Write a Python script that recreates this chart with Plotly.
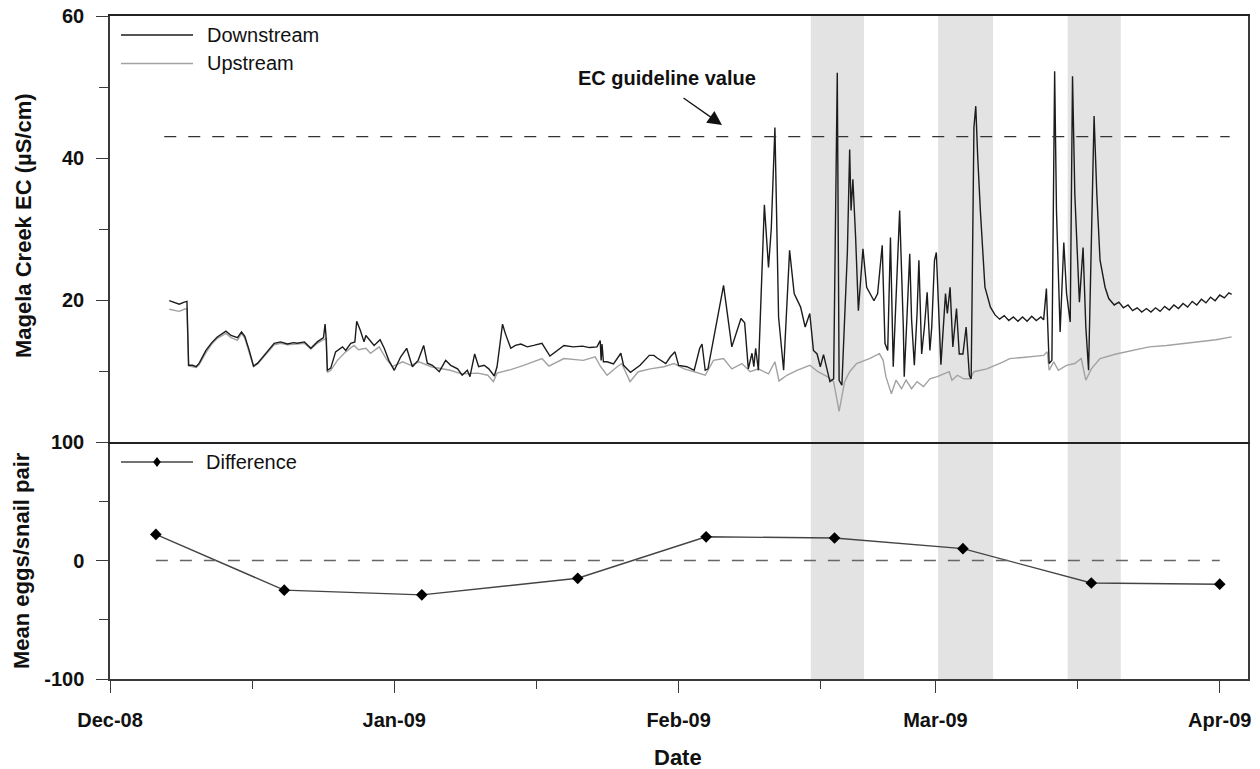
import pandas as pd
import plotly.graph_objects as go

# ---------------- data (days since 2008-12-01) ----------------
BASE = "2008-12-01"

DS_DAY = [6.46, 7.0, 7.55, 8.1, 8.39, 8.57, 9.0, 9.4, 9.73, 10.46, 11.1, 11.7, 12.64, 13.2, 13.9, 14.34, 14.7,
          15.18, 15.65, 16.1, 17.2, 17.9, 18.6, 19.35, 20.0, 20.4, 21.2, 21.9, 22.6, 23.28, 23.45, 23.55, 23.7,
          24.07, 24.6, 25.35, 25.7, 26.25, 26.7, 26.9, 27.3, 27.7, 27.9, 28.4, 28.8, 29.45, 29.9, 30.4, 31.0,
          31.7, 32.35, 32.97, 33.6, 34.2, 34.6, 35.15, 35.9, 36.6, 37.15, 37.9, 38.4, 38.96, 39.25, 39.76, 40.2,
          40.8, 41.3, 41.9, 42.2, 42.8, 43.1, 43.7, 44.2, 44.8, 45.5, 46.2, 47.1, 47.97, 48.5, 49.1, 49.5, 50.5,
          51.5, 52.3, 53.1, 53.45, 53.55, 53.65, 53.8, 54.2, 54.9, 55.7, 56.0, 56.75, 57.5, 57.8, 58.8, 59.3,
          59.7, 60.4, 60.6, 61.1, 61.6, 62.0, 62.9, 63.7, 64.3, 64.55, 64.9, 65.2, 66.9, 67.8, 68.8, 69.2, 69.6,
          70.0, 70.2, 70.4, 70.7, 71.35, 71.8, 72.1, 72.5, 72.9, 73.45, 74.1, 74.6, 75.3, 75.8, 76.3, 76.7, 77.1,
          77.45, 77.8, 78.2, 78.5, 78.9, 79.3, 79.5, 79.8, 80.4, 80.65, 80.8, 81.0, 81.3, 81.6, 82.1, 82.5, 83.3,
          83.7, 84.2, 84.5, 84.8, 85.1, 85.4, 85.8, 86.1, 86.5, 86.6, 86.9, 87.2, 87.4, 87.7, 88.0, 88.2, 88.5,
          88.8, 89.1, 89.4, 89.6, 89.9, 90.1, 90.3, 90.6, 91.1, 91.3, 91.6, 91.9, 92.3, 92.6, 93.0, 93.35, 93.7,
          93.9, 94.2, 94.4, 94.6, 94.9, 95.4, 96.0, 96.5, 97.0, 97.5, 98.0, 98.5, 99.0, 99.5, 100.0, 100.5,
          101.0, 101.5, 101.8, 102.1, 102.4, 102.7, 103.0, 103.2, 103.6, 104.0, 104.3, 104.7, 104.95, 105.2,
          105.7, 106.1, 106.4, 106.7, 107.05, 107.3, 107.6, 107.95, 108.5, 108.9, 109.5, 110.0, 110.5, 111.0,
          111.5, 112.0, 112.5, 113.0, 113.5, 114.0, 114.5, 115.0, 115.5, 116.0, 116.5, 117.0, 117.5, 118.0,
          118.5, 119.0, 119.5, 120.0, 120.5, 121.0, 121.5, 122.0, 122.3]
DS_EC = [19.9, 19.7, 19.4, 19.7, 19.8, 10.8, 10.8, 10.6, 11.1, 12.9, 14.0, 14.8, 15.6, 15.0, 14.7, 15.5, 14.9,
         12.9, 10.7, 11.1, 12.9, 13.9, 14.1, 13.8, 14.0, 13.9, 14.1, 13.2, 14.1, 14.7, 16.6, 15.0, 10.1,
         10.4, 12.7, 13.4, 12.9, 13.9, 14.1, 17.0, 15.7, 14.1, 15.0, 14.3, 13.6, 14.4, 13.2, 11.5, 10.1,
         12.0, 13.2, 10.6, 11.5, 13.6, 11.1, 10.8, 9.9, 11.5, 10.8, 10.3, 9.4, 10.1, 9.2, 12.4, 10.6,
         10.8, 10.3, 9.3, 10.6, 16.6, 15.3, 13.2, 13.6, 13.8, 13.4, 13.6, 13.9, 12.1, 12.6, 13.2, 13.6, 13.4,
         13.5, 13.3, 13.4, 14.3, 11.5, 13.8, 11.3, 11.3, 11.0, 12.5, 10.8, 9.8, 10.6, 10.8, 12.2, 12.2,
         11.8, 11.2, 11.05, 12.0, 12.7, 10.8, 10.6, 10.1, 13.2, 13.8, 10.1, 10.3, 22.05, 13.4, 17.4, 16.8, 10.3,
         12.5, 10.6, 13.2, 10.1, 33.4, 24.6, 30.0, 44.3, 17.6, 10.1, 27.0, 20.9, 19.0, 16.2, 18.1, 12.9, 12.4,
         10.6, 12.3, 10.1, 8.5, 8.9, 52.0, 8.7, 8.0, 26.7, 41.2, 32.6, 37.0, 28.8, 18.5, 27.2, 21.8, 19.9,
         20.9, 27.7, 13.9, 12.9, 28.8, 10.6, 23.5, 32.6, 16.2, 9.2, 17.6, 26.5, 17.3, 10.8, 18.1, 25.6, 12.4,
         16.2, 21.1, 12.9, 16.2, 25.6, 26.7, 19.9, 10.9, 20.9, 18.1, 21.8, 13.4, 18.8, 12.4, 12.4, 16.2, 9.4,
         8.9, 44.3, 47.3, 40.5, 32.6, 21.8, 19.0, 17.9, 17.3, 17.8, 17.1, 17.6, 17.0, 17.6, 17.0, 17.7,
         17.1, 17.6, 17.2, 21.6, 11.05, 11.5, 52.2, 32.6, 15.5, 28.1, 20.9, 16.9, 51.5, 34.9,
         19.7, 27.4, 16.2, 10.1, 32.6, 45.9, 34.9, 25.6, 21.8, 20.2, 19.3, 19.7, 18.9, 19.3,
         18.5, 18.9, 18.3, 18.8, 18.3, 18.9, 18.4, 19.1, 18.6, 19.3, 18.8, 19.5, 19.0, 19.8,
         19.3, 20.1, 19.6, 20.4, 19.9, 20.7, 20.3, 21.0, 20.8]

US_DAY = [6.46, 7.0, 7.55, 8.1, 8.39, 8.57, 9.0, 9.4, 9.73, 10.46, 11.1, 11.7, 12.64, 13.2, 13.9, 14.34, 14.7,
          15.18, 15.65, 16.1, 17.2, 17.9, 18.6, 19.35, 20.4, 21.2, 21.9, 22.6, 23.28, 23.6, 23.7, 24.07, 24.8,
          25.7, 26.6, 27.1, 27.9, 28.4, 29.35, 30.1, 30.8, 31.9, 32.8, 33.7, 35.0, 36.1, 37.1, 38.3, 40.1,
          41.2, 41.8, 42.2, 43.7, 45.1, 46.2, 47.1, 47.85, 49.1, 49.5, 51.6, 52.9, 53.5, 54.2, 55.3, 55.8,
          56.7, 57.6, 58.9, 60.4, 61.5, 62.6, 63.7, 64.9, 65.8, 66.9, 67.8, 68.9, 69.8, 70.7, 71.3, 71.8,
          72.5, 72.95, 73.8, 74.9, 76.3, 77.2, 78.2, 78.9, 79.5, 80.1, 80.65, 81.4, 82.8, 83.9, 84.3, 84.6,
          85.2, 85.7, 86.3, 86.8, 87.4, 88.0, 88.7, 89.4, 90.2, 90.9, 91.5, 91.8, 92.4, 93.1, 93.8, 94.2,
          95.6, 97.4, 98.1, 99.5, 101.8, 102.2, 102.4, 102.9, 103.4, 104.3, 105.2, 105.9, 106.4, 107.0,
          107.95, 109.7, 111.5, 113.3, 115.2, 117.0, 118.8, 120.6, 122.3]
US_EC = [18.7, 18.6, 18.4, 18.7, 18.8, 10.7, 10.6, 10.5, 10.9, 12.6, 13.8, 14.6, 15.3, 14.7, 14.3, 15.3, 14.6,
         12.6, 10.6, 11.0, 12.7, 13.7, 13.9, 13.7, 13.8, 13.9, 13.1, 13.9, 14.4, 14.6, 9.8, 10.1, 11.5,
         12.7, 13.6, 13.0, 13.2, 12.5, 13.4, 11.75, 10.6, 11.3, 10.8, 11.3, 10.6, 10.3, 10.1, 9.6, 9.7,
         9.4, 8.5, 9.7, 10.2, 10.8, 11.3, 11.75, 10.7, 11.5, 11.75, 11.5, 12.0, 10.6, 9.4, 10.6, 11.05,
         8.5, 9.9, 10.3, 10.6, 11.05, 10.3, 9.9, 9.4, 11.5, 11.75, 10.3, 11.05, 9.9, 10.3, 9.9, 9.6,
         11.3, 8.6, 9.4, 10.1, 10.8, 9.9, 9.2, 8.5, 4.3, 8.5, 9.9, 11.05, 11.75, 12.45, 11.5, 9.2,
         6.8, 8.7, 7.5, 8.7, 7.5, 8.5, 7.8, 8.9, 9.2, 9.6, 9.9, 8.7, 9.4, 8.9, 8.9, 9.9,
         10.3, 11.3, 11.75, 11.9, 12.2, 12.7, 10.1, 11.3, 10.1, 10.8, 11.05, 11.75, 8.7, 10.3,
         11.75, 12.4, 12.9, 13.4, 13.6, 13.9, 14.2, 14.4, 14.8]

DIFF_DATES = ["2008-12-06", "2008-12-20", "2009-01-04", "2009-01-21", "2009-02-04",
              "2009-02-18", "2009-03-04", "2009-03-18", "2009-04-01"]
DIFF_VALUES = [22, -25, -29, -15, 20, 19, 10, -19, -20]

EC_GUIDELINE = 43
GUIDE_START, GUIDE_END = "2008-12-06 22:00", "2009-04-02 02:00"

BAND_STARTS = ["2009-02-15 10:00", "2009-03-01 07:00", "2009-03-15 10:00"]
BAND_ENDS = ["2009-02-21 05:00", "2009-03-07 07:00", "2009-03-21 05:00"]

X_RANGE = ["2008-12-01", "2009-04-04 02:00"]
MONTH_TICKS = ["2008-12-01", "2009-01-01", "2009-02-01", "2009-03-01", "2009-04-01"]
MID_TICKS = ["2008-12-16 12:00", "2009-01-16 12:00", "2009-02-16 12:00", "2009-03-16 12:00"]
EC_TICKS = [20, 40, 60]
EC_MINOR = [10, 30, 50]
EGG_TICKS = [-100, 0, 100]
EGG_TICK_TEXT = ["-100", "0", "100"]
EGG_MINOR = [-50, 50]

base = pd.Timestamp(BASE)
ds_dates = base + pd.to_timedelta(DS_DAY, unit="D")
us_dates = base + pd.to_timedelta(US_DAY, unit="D")

FONT = "Liberation Sans, Arial, sans-serif"
AX = "#3a3a3a"

fig = go.Figure()
fig.add_trace(go.Scatter(x=us_dates, y=US_EC, mode="lines", line=dict(color="#a2a2a2", width=1.4),
                         xaxis="x2", yaxis="y2", showlegend=False, name="Upstream"))
fig.add_trace(go.Scatter(x=ds_dates, y=DS_EC, mode="lines", line=dict(color="#1c1c1c", width=1.4),
                         xaxis="x2", yaxis="y2", showlegend=False, name="Downstream"))
fig.add_trace(go.Scatter(x=DIFF_DATES, y=DIFF_VALUES, mode="lines+markers",
                         line=dict(color="#444444", width=1.4),
                         marker=dict(symbol="diamond", size=9, color="#000000"),
                         xaxis="x", yaxis="y", showlegend=False, name="Difference"))

shapes = []
for s, e in zip(BAND_STARTS, BAND_ENDS):
    for yr in ("y domain", "y2 domain"):
        shapes.append(dict(type="rect", xref="x", yref=yr, x0=s, x1=e, y0=0, y1=1,
                           fillcolor="#e3e3e3", line=dict(width=0), layer="below"))
# guideline and zero line
shapes.append(dict(type="line", xref="x2", yref="y2", x0=GUIDE_START, x1=GUIDE_END,
                   y0=EC_GUIDELINE, y1=EC_GUIDELINE, line=dict(color="#333333", width=1.3, dash="12px,12px")))
shapes.append(dict(type="line", xref="x", yref="y", x0=DIFF_DATES[0], x1=DIFF_DATES[-1],
                   y0=0, y1=0, line=dict(color="#666666", width=1.3, dash="12px,12px")))

L, R, T, B, H = 110, 1248, 16, 679, 663
def px(x): return (x - L) / (R - L)
def py(y): return (B - y) / H

# custom legends
shapes.append(dict(type="line", xref="paper", yref="paper", x0=px(121), x1=px(193), y0=py(35), y1=py(35),
                   line=dict(color="#1c1c1c", width=1.4)))
shapes.append(dict(type="line", xref="paper", yref="paper", x0=px(121), x1=px(193), y0=py(63.5), y1=py(63.5),
                   line=dict(color="#a2a2a2", width=1.4)))
shapes.append(dict(type="line", xref="paper", yref="paper", x0=px(121), x1=px(193), y0=py(462), y1=py(462),
                   line=dict(color="#444444", width=1.4)))
shapes.append(dict(type="path", xref="paper", yref="paper", xsizemode="pixel", ysizemode="pixel",
                   xanchor=px(157), yanchor=py(462), path="M0,5 L3.8,0 L0,-5 L-3.8,0 Z",
                   fillcolor="#000000", line=dict(width=0)))

ann = []
def txt(t, x, y, size=20, bold=False, xanchor="left", angle=0):
    ann.append(dict(text=t, x=x, y=y, xref="paper", yref="paper", showarrow=False, xanchor=xanchor,
                    yanchor="middle", textangle=angle,
                    font=dict(family=FONT, size=size, color="#111111", weight="bold" if bold else "normal")))

txt("Downstream", px(205), py(35))
txt("Upstream", px(205), py(63.5))
txt("Difference", px(204), py(462))
txt("EC guideline value", px(667), py(78), size=20, bold=True, xanchor="center")
txt("Magela Creek EC (µS/cm)", px(23), py(226), size=22, bold=True, xanchor="center", angle=-90)
txt("Mean eggs/snail pair", px(21), py(561), size=22, bold=True, xanchor="center", angle=-90)
txt("Date", px(678), py(757), size=22, bold=True, xanchor="center")
ann.append(dict(text="", x=px(722), y=py(125), xref="paper", yref="paper", showarrow=True,
                ax=-40, ay=-28, arrowhead=2, arrowsize=2.2, arrowwidth=1.3, arrowcolor="#111111"))

tickfont = dict(family=FONT, size=20, color="#111111", weight="bold")
split = 237 / 663

fig.update_layout(
    width=1260, height=769,
    margin=dict(l=L, r=1260 - R, t=T, b=769 - B, autoexpand=False),
    paper_bgcolor="white", plot_bgcolor="rgba(0,0,0,0)",
    font=dict(family=FONT),
    showlegend=False,
    shapes=shapes, annotations=ann,
    xaxis=dict(domain=[0, 1], anchor="y", type="date", range=X_RANGE, tickmode="array",
               tickvals=MONTH_TICKS, tickformat="%b-%y", ticks="outside", ticklen=12, tickwidth=1.3,
               tickcolor=AX, showline=True, linecolor=AX, linewidth=1.5, mirror=False, automargin=False,
               showgrid=False, zeroline=False, tickfont=tickfont, ticklabelstandoff=10,
               minor=dict(tickmode="array", tickvals=MID_TICKS, ticks="outside", ticklen=8,
                          tickwidth=1.3, tickcolor=AX, showgrid=False)),
    xaxis2=dict(domain=[0, 1], anchor="y2", matches="x", type="date", range=X_RANGE, automargin=False,
                showticklabels=False, ticks="", showline=True, linecolor="#222222", linewidth=1.5,
                mirror=True, showgrid=False, zeroline=False),
    yaxis=dict(domain=[0, split], anchor="x", range=[-100, 100], tickmode="array",
               tickvals=EGG_TICKS, ticktext=EGG_TICK_TEXT, ticks="outside", ticklen=12, tickwidth=1.3,
               tickcolor=AX, automargin=False,
               showline=True, linecolor=AX, linewidth=1.5, mirror=True, showgrid=False, zeroline=False,
               tickfont=tickfont, ticklabelstandoff=8,
               minor=dict(tickmode="array", tickvals=EGG_MINOR, ticks="outside", ticklen=9,
                          tickwidth=1.3, tickcolor=AX, showgrid=False)),
    yaxis2=dict(domain=[split, 1], anchor="x2", range=[0, 60], tickmode="array", automargin=False,
                tickvals=EC_TICKS, ticks="outside", ticklen=12, tickwidth=1.3, tickcolor=AX,
                showline=True, linecolor=AX, linewidth=1.5, mirror=True, showgrid=False, zeroline=False,
                tickfont=tickfont, ticklabelstandoff=8,
                minor=dict(tickmode="array", tickvals=EC_MINOR, ticks="outside", ticklen=9,
                           tickwidth=1.3, tickcolor=AX, showgrid=False)),
)

fig.write_html("out.html")
